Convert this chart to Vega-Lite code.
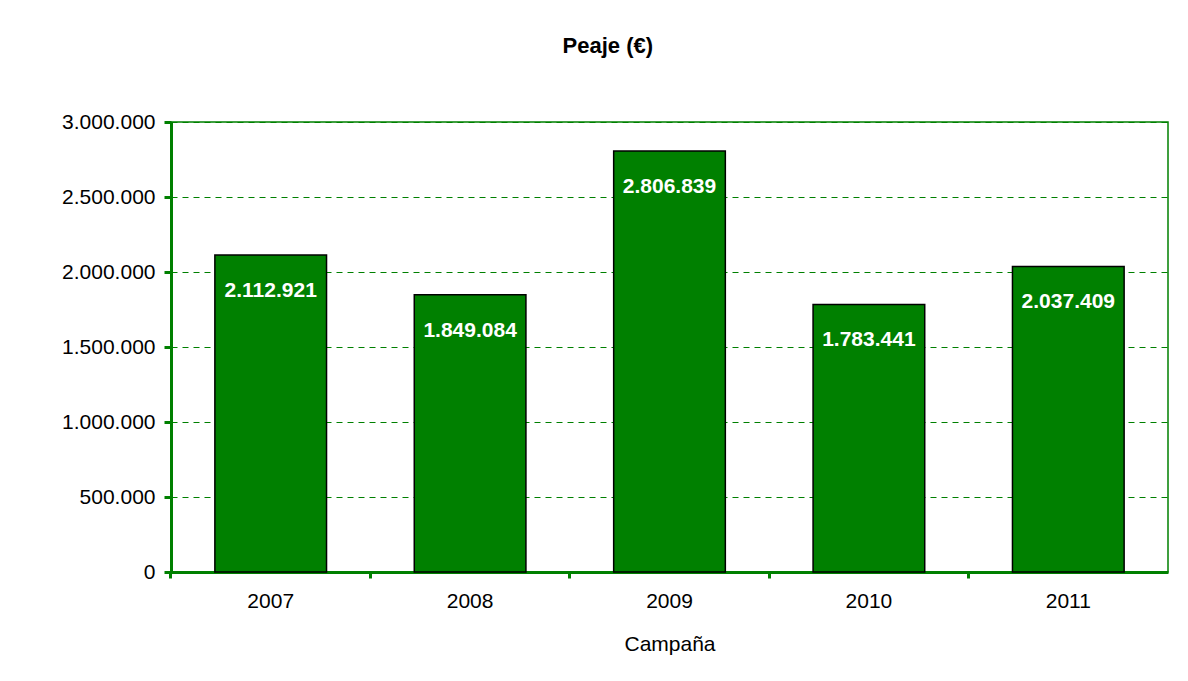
{
  "$schema": "https://vega.github.io/schema/vega-lite/v6.json",
  "width": 997,
  "height": 450,
  "autosize": {"type": "none"},
  "padding": {"left": 171, "top": 122, "right": 20, "bottom": 109},
  "background": "white",
  "title": {
    "text": "Peaje (€)",
    "font": "Liberation Sans",
    "fontSize": 22,
    "fontWeight": "bold",
    "color": "black",
    "anchor": "middle",
    "frame": "bounds",
    "dx": -7,
    "offset": 53
  },
  "config": {
    "locale": {"number": {"decimal": ",", "thousands": ".", "grouping": [3], "currency": ["", " €"]}},
    "view": {"stroke": "#008000", "strokeWidth": 1.5},
    "font": "Liberation Sans"
  },
  "data": {
    "values": [
      {"Campaña": "2007", "Peaje": 2112921},
      {"Campaña": "2008", "Peaje": 1849084},
      {"Campaña": "2009", "Peaje": 2806839},
      {"Campaña": "2010", "Peaje": 1783441},
      {"Campaña": "2011", "Peaje": 2037409}
    ]
  },
  "encoding": {
    "x": {
      "field": "Campaña",
      "type": "ordinal",
      "scale": {"paddingInner": 0.44, "paddingOuter": 0.22},
      "axis": {
        "title": "Campaña",
        "titleFont": "Liberation Sans",
        "titleFontSize": 21,
        "titleFontWeight": "normal",
        "titleColor": "black",
        "titlePadding": 22,
        "labelAngle": 0,
        "labelFont": "Liberation Sans",
        "labelFontSize": 21,
        "labelColor": "black",
        "labelPadding": 12,
        "domainColor": "#008000",
        "domainWidth": 3,
        "tickColor": "#008000",
        "tickWidth": 3,
        "tickSize": 6,
        "bandPosition": -0.393,
        "grid": false
      }
    },
    "y": {
      "field": "Peaje",
      "type": "quantitative",
      "scale": {"domain": [0, 3000000]},
      "axis": {
        "title": null,
        "values": [0, 500000, 1000000, 1500000, 2000000, 2500000, 3000000],
        "format": ",d",
        "labelFont": "Liberation Sans",
        "labelFontSize": 21,
        "labelColor": "black",
        "labelPadding": 9,
        "domainColor": "#008000",
        "domainWidth": 3,
        "tickColor": "#008000",
        "tickWidth": 3,
        "tickSize": 7,
        "grid": true,
        "gridColor": "#008000",
        "gridWidth": 1,
        "gridDash": [6, 5]
      }
    }
  },
  "layer": [
    {
      "mark": {"type": "bar", "color": "#008000", "stroke": "black", "strokeWidth": 1.5}
    },
    {
      "mark": {
        "type": "text",
        "color": "white",
        "font": "Liberation Sans",
        "fontSize": 21,
        "fontWeight": "bold",
        "baseline": "middle",
        "align": "center",
        "dy": 36
      },
      "encoding": {
        "text": {"field": "Peaje", "type": "quantitative", "format": ",d"}
      }
    }
  ]
}
